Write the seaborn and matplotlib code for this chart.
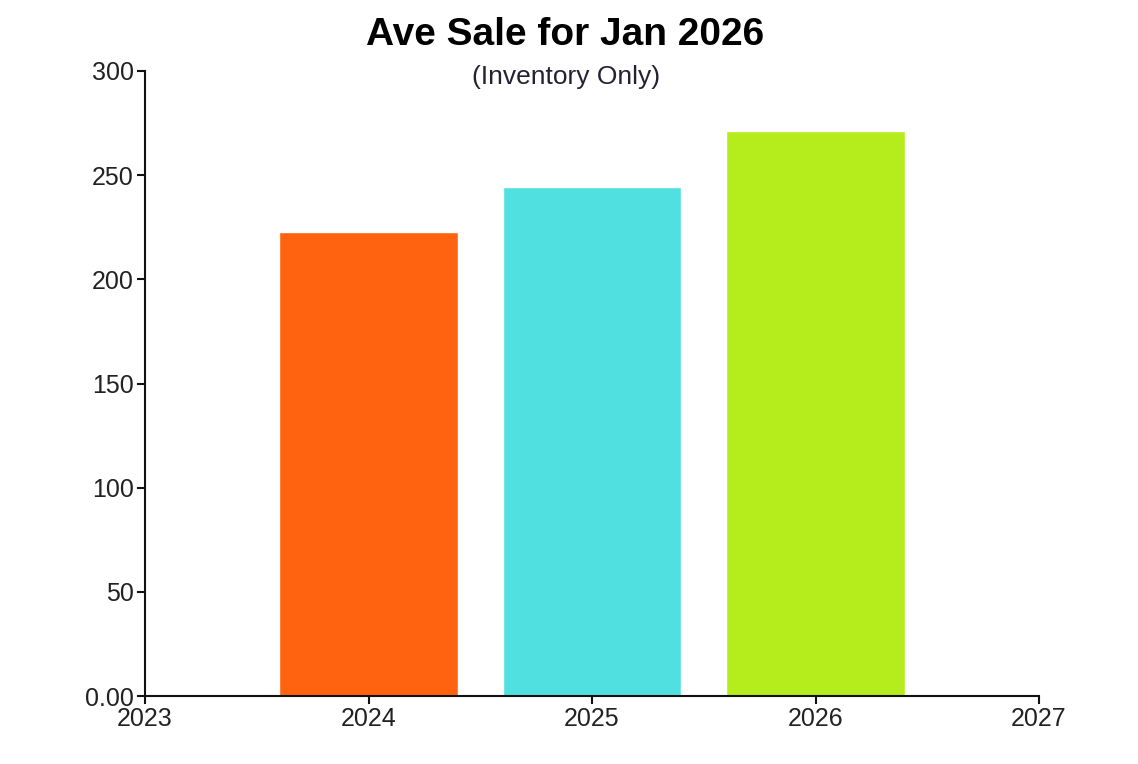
import matplotlib
matplotlib.use("Agg")
import matplotlib.pyplot as plt
import seaborn as sns
import pandas as pd

# chart data
years = [2024, 2025, 2026]
aveSale = [222.5, 244.5, 271.0]
barColors = ["#FF6310", "#50E0E0", "#B4EC1C"]
yTicks = [0, 50, 100, 150, 200, 250, 300]
yTickLabels = ["0.00", "50", "100", "150", "200", "250", "300"]
xTicks = [2023, 2024, 2025, 2026, 2027]

sns.set_style("white")
plt.rcParams["font.family"] = ["Liberation Sans", "DejaVu Sans"]

df = pd.DataFrame({"Year": years, "AveSale": aveSale})

fig = plt.figure(figsize=(11.38, 7.64), dpi=100)
ax = fig.add_axes([145 / 1138, 68 / 764, (1039 - 145) / 1138, (696 - 71) / 764])

sns.barplot(data=df, x="Year", y="AveSale", hue="Year", palette=barColors,
            native_scale=True, width=0.8, saturation=1, legend=False, ax=ax)

ax.set_xlim(2023, 2027)
ax.set_ylim(0, 300)
ax.set_xticks(xTicks)
ax.set_xticklabels([str(x) for x in xTicks])
ax.set_yticks(yTicks)
ax.set_yticklabels(yTickLabels)
ax.set_xlabel("")
ax.set_ylabel("")

for side in ["top", "right"]:
    ax.spines[side].set_visible(False)
for side in ["left", "bottom"]:
    ax.spines[side].set_color("#111111")
    ax.spines[side].set_linewidth(1.5)

ax.tick_params(axis="both", direction="out", length=6, width=1.5, color="#111111",
               labelsize=18, labelcolor="#222222", pad=2, bottom=True, left=True)

fig.text(0.4965, 1 - 35 / 764, "Ave Sale for Jan 2026", ha="center", va="center",
         fontsize=28, fontweight="bold", color="#000000")
fig.text(0.4975, 1 - 77 / 764, "(Inventory Only)", ha="center", va="center",
         fontsize=19, color="#222233")

plt.savefig("out.png", dpi=100, facecolor="white")
plt.close()
